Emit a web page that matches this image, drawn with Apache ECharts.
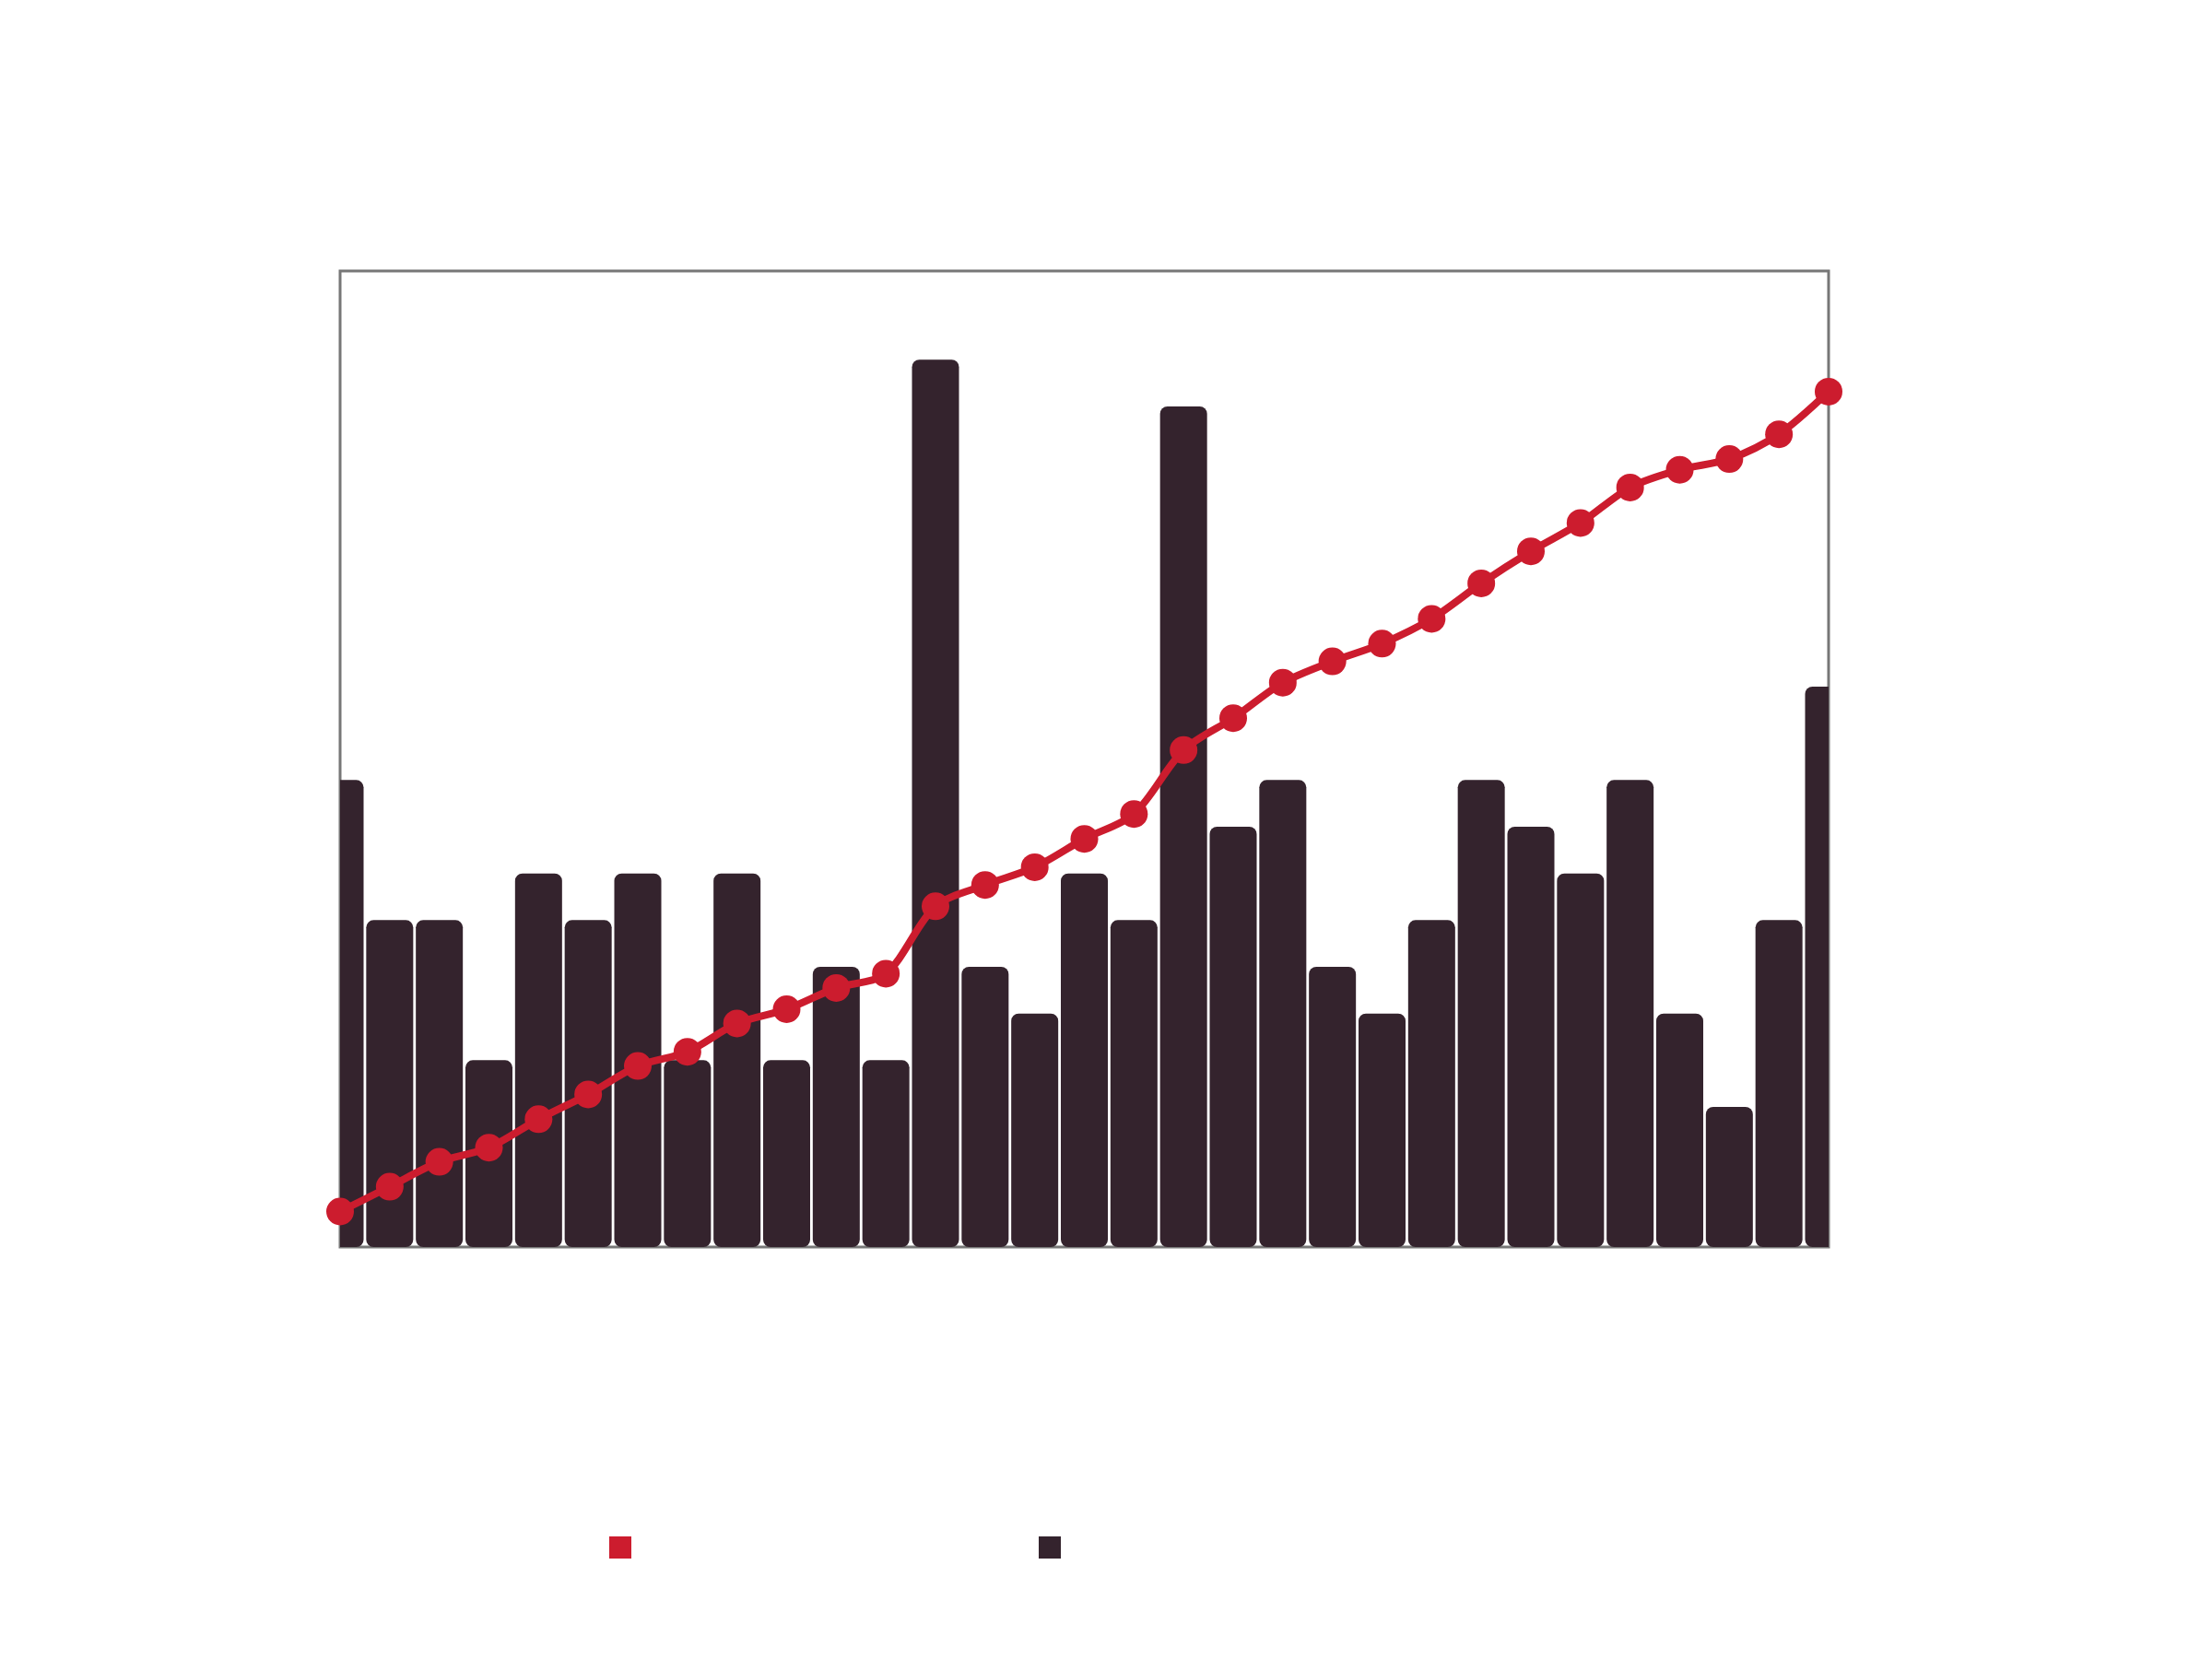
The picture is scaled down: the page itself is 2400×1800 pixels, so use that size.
<!DOCTYPE html>
<html>
<head>
<meta charset="utf-8">
<script src="https://cdn.jsdelivr.net/npm/echarts@6/dist/echarts.min.js"></script>
<style>
  html, body { margin: 0; padding: 0; background: #ffffff; }
  #chart { width: 2400px; height: 1800px; }
</style>
</head>
<body>
<div id="chart"></div>
<script>
// Periods along the x axis (labels are not shown)
const categories = Array.from({ length: 31 }, (_, i) => String(i + 1));

// Count per period (bars)
const counts = [10, 7, 7, 4, 8, 7, 8, 4, 8, 4, 6, 4, 19, 6, 5, 8, 7, 18, 9, 10, 6, 5, 7, 10, 9, 8, 10, 5, 3, 7, 12];

// Running total (line)
const totals = [10, 17, 24, 28, 36, 43, 51, 55, 63, 67, 73, 77, 96, 102, 107, 115, 122, 140, 149, 159, 165, 170, 177, 187, 196, 204, 214, 219, 222, 229, 241];

const RED = '#cc1c2e';
const DARK = '#34232d';
const BAR_WIDTH = 51;

const chart = echarts.init(document.getElementById('chart'), null, { renderer: 'canvas' });

chart.setOption({
  backgroundColor: '#ffffff',
  animation: false,
  grid: {
    left: 369,
    top: 294,
    width: 1615,
    height: 1059,
    show: true,
    borderColor: '#777777',
    borderWidth: 3,
    backgroundColor: 'transparent'
  },
  legend: [
    {
      data: ['total'],
      left: 661,
      top: 1667,
      padding: 0,
      itemWidth: 24,
      itemHeight: 24,
      icon: 'rect',
      formatter: () => '',
      selectedMode: false
    },
    {
      data: ['count'],
      left: 1127,
      top: 1667,
      padding: 0,
      itemWidth: 24,
      itemHeight: 24,
      icon: 'rect',
      formatter: () => '',
      selectedMode: false
    }
  ],
  xAxis: {
    type: 'category',
    data: categories,
    boundaryGap: false,
    axisLine: { show: false },
    axisTick: { show: false },
    axisLabel: { show: false },
    splitLine: { show: false }
  },
  yAxis: [
    {
      type: 'value',
      min: 0,
      max: 20.9,
      axisLine: { show: false },
      axisTick: { show: false },
      axisLabel: { show: false },
      splitLine: { show: false }
    },
    {
      type: 'value',
      min: 0,
      max: 275,
      axisLine: { show: false },
      axisTick: { show: false },
      axisLabel: { show: false },
      splitLine: { show: false }
    }
  ],
  series: [
    {
      name: 'total',
      type: 'line',
      yAxisIndex: 1,
      data: totals,
      smooth: 0.3,
      symbol: 'circle',
      symbolSize: 30,
      clip: false,
      z: 5,
      lineStyle: { color: RED, width: 8 },
      itemStyle: { color: RED }
    },
    {
      // Rounded bars centred on each category point, cut off at the plot edges
      name: 'count',
      type: 'custom',
      yAxisIndex: 0,
      clip: true,
      z: 2,
      itemStyle: { color: DARK },
      encode: { x: 0, y: 1 },
      data: counts.map((v, i) => [i, v]),
      renderItem: (params, api) => {
        const top = api.coord([api.value(0), api.value(1)]);
        const base = api.coord([api.value(0), 0]);
        return {
          type: 'rect',
          shape: {
            x: top[0] - BAR_WIDTH / 2,
            y: top[1],
            width: BAR_WIDTH,
            height: base[1] - top[1],
            r: 8
          },
          style: { fill: DARK }
        };
      }
    }
  ]
});
</script>
</body>
</html>
